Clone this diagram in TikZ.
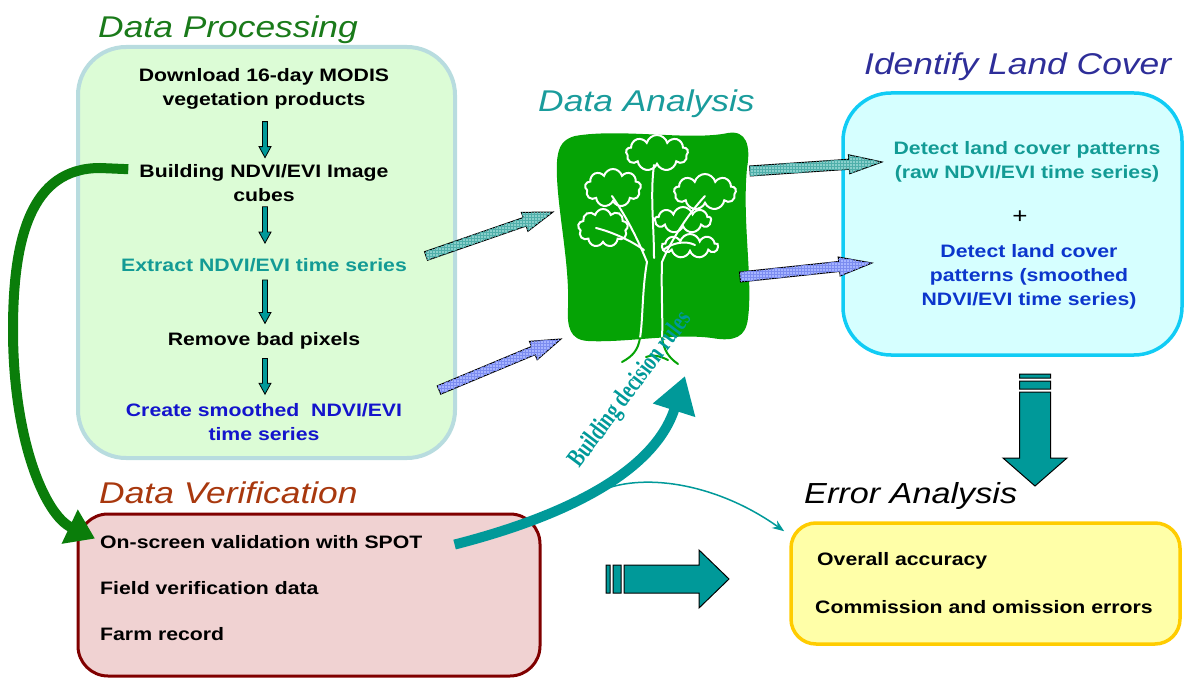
\documentclass[tikz,border=0pt]{standalone}
\usepackage{fontspec}
\setmainfont{Liberation Sans}[FakeStretch=1.18]
\newfontfamily\bdrfont{Liberation Serif}[FakeStretch=0.74]
\usetikzlibrary{calc,arrows.meta,shapes.symbols,patterns}

\definecolor{dptitle}{HTML}{1A7A1A}
\definecolor{dpfill}{HTML}{DCFCD6}
\definecolor{dpedge}{HTML}{B8DCDF}
\definecolor{tealtxt}{HTML}{139B95}
\definecolor{bluetxt}{HTML}{1414CC}
\definecolor{dvfill}{HTML}{F0D2D2}
\definecolor{dvedge}{HTML}{800000}
\definecolor{dvtitle}{HTML}{A8380E}
\definecolor{treegreen}{HTML}{05A305}
\definecolor{datitle}{HTML}{1A9C9C}
\definecolor{ilcfill}{HTML}{D6FFFF}
\definecolor{ilcedge}{HTML}{11CCF5}
\definecolor{ilctitle}{HTML}{2E2E99}
\definecolor{ilcblue}{HTML}{0C36CC}
\definecolor{arrteal}{HTML}{009999}
\definecolor{eafill}{HTML}{FFFFA8}
\definecolor{eaedge}{HTML}{FFCC00}
\definecolor{fatteal}{HTML}{8AD0CC}
\definecolor{fatblue}{HTML}{A6B4FF}
\definecolor{fattealgrid}{HTML}{4FAFAA}
\definecolor{fatbluegrid}{HTML}{7C8CF0}
\definecolor{curvegreen}{HTML}{0A7D0A}

% fat outlined arrow: style, from, to, half shaft, half head, head length
\newcommand\fatarrow[6]{%
  \draw[#1] let \p1=#2, \p2=#3, \n1={atan2(\y2-\y1,\x2-\x1)}, \n2={veclen(\x2-\x1,\y2-\y1)} in
    [shift={(\p1)}, rotate=\n1]
    (0,-#4) -- ({\n2-#6},-#4) -- ({\n2-#6},-#5) -- (\n2,0) -- ({\n2-#6},#5) -- ({\n2-#6},#4) -- (0,#4) -- cycle;}
% striped block arrow
\newcommand\stripearrow[6]{%
  \draw[#1] let \p1=#2, \p2=#3, \n1={atan2(\y2-\y1,\x2-\x1)}, \n2={veclen(\x2-\x1,\y2-\y1)} in
    [shift={(\p1)}, rotate=\n1]
    (0,-#4) -- (4,-#4) -- (4,#4) -- (0,#4) -- cycle
    (7,-#4) -- (15,-#4) -- (15,#4) -- (7,#4) -- cycle
    (18,-#4) -- ({\n2-#6},-#4) -- ({\n2-#6},-#5) -- (\n2,0) -- ({\n2-#6},#5) -- ({\n2-#6},#4) -- (18,#4) -- cycle;}

\begin{document}
\begin{tikzpicture}[x=1pt,y=-1pt,
  titletxt/.style={font=\itshape\fontsize{30}{30}\selectfont, inner sep=0pt, anchor=base west},
  bodytxt/.style={font=\bfseries\fontsize{18}{24}\selectfont, inner sep=0pt, align=center},
  listtxt/.style={font=\bfseries\fontsize{18}{24}\selectfont, inner sep=0pt, anchor=base west},
  dpbox/.style={draw=dpedge, fill=dpfill, line width=4pt, rounded corners=48pt, minimum width=377pt, minimum height=411pt, inner sep=0pt},
  dvbox/.style={draw=dvedge, fill=dvfill, line width=3pt, rounded corners=30pt, minimum width=462pt, minimum height=162pt, inner sep=0pt},
  ilcbox/.style={draw=ilcedge, fill=ilcfill, line width=3.5pt, rounded corners=48pt, minimum width=339pt, minimum height=262pt, inner sep=0pt},
  eabox/.style={draw=eaedge, fill=eafill, line width=3.5pt, rounded corners=25pt, minimum width=389pt, minimum height=121pt, inner sep=0pt},
  smallarr/.style={fill=arrteal, draw=black, line width=0.8pt},
  fattealarr/.style={fill=fatteal, draw=black, line width=1pt, postaction={pattern=grid, pattern color=fattealgrid}},
  fatbluearr/.style={fill=fatblue, draw=black, line width=1pt, postaction={pattern=grid, pattern color=fatbluegrid}},
  bigarr/.style={fill=arrteal, draw=black, line width=1pt},
  leaf/.style={cloud, cloud puffs=9, cloud ignores aspect, draw=white, line width=2pt, inner sep=0pt},
  branch/.style={draw=white, line width=2pt, line cap=round},
  root/.style={draw=treegreen, line width=2pt, line cap=round},
]
\useasboundingbox (0,0) rectangle (1184,679);

% ---------- boxes ----------
\node[dpbox] (dp) at (266.5,252.5) {};
\node[dvbox] (dv) at (309,595) {};
\node[ilcbox] (ilc) at (1012.5,224) {};
\node[eabox] (ea) at (985.5,583.5) {};

% ---------- titles ----------
\node[titletxt, text=dptitle] (tdp) at (98,38) {Data Processing};
\node[titletxt, text=datitle] (tda) at (538,112) {Data Analysis};
\node[titletxt, text=ilctitle] (tilc) at (864,75) {Identify Land Cover};
\node[titletxt, text=dvtitle] (tdv) at (99,503) {Data Verification};
\node[titletxt, text=black, font=\itshape\fontsize{29}{29}\selectfont] (tea) at (804,503) {Error Analysis};

% ---------- data processing steps ----------
\node[bodytxt] (d1) at (264,89) {Download 16-day MODIS\\vegetation products};
\node[bodytxt] (d2) at (264,183) {Building NDVI/EVI Image\\cubes};
\node[bodytxt, text=tealtxt] (d3) at (264,265) {Extract NDVI/EVI time series};
\node[bodytxt] (d4) at (264,341) {Remove bad pixels};
\node[bodytxt, text=bluetxt] (d5) at (264,422) {Create smoothed\ \ NDVI/EVI\\time series};

\fatarrow{smallarr}{($(d1.south)+(1,12)$)}{($(d1.south)+(1,48)$)}{2.5}{6}{11}
\fatarrow{smallarr}{($(d2.south)+(1,5)$)}{($(d3.north)+(1,-15)$)}{2.5}{6}{11}
\fatarrow{smallarr}{($(d3.south)+(1,8)$)}{($(d4.north)+(1,-9)$)}{2.5}{6}{11}
\fatarrow{smallarr}{($(d4.south)+(1,9)$)}{($(d5.north)+(1,-9)$)}{2.5}{6}{11}

% ---------- verification list ----------
\node[listtxt] (v1) at (100,548) {On-screen validation with SPOT};
\node[listtxt] (v2) at (100,594) {Field verification data};
\node[listtxt] (v3) at (100,640) {Farm record};

% ---------- identify land cover ----------
\node[bodytxt, text=tealtxt] (i1) at (1027,162) {Detect land cover patterns\\(raw NDVI/EVI time series)};
\node[font=\fontsize{22}{22}\selectfont, inner sep=0pt] (plus) at (1020,217) {+};
\node[bodytxt, text=ilcblue] (i2) at (1029,277) {Detect land cover\\patterns (smoothed\\NDVI/EVI time series)};

% ---------- error analysis ----------
\node[listtxt] (e1) at (817,565) {Overall accuracy};
\node[listtxt] (e2) at (815,613) {Commission and omission errors};

% ---------- tree ----------
\fill[treegreen] (575,136) .. controls (620,128) and (690,141) .. (728,133)
  .. controls (746,130) and (751,145) .. (747,168)
  .. controls (742,220) and (753,280) .. (748,318)
  .. controls (746,337) and (735,342) .. (712,338)
  .. controls (675,333) and (625,343) .. (588,341)
  .. controls (570,340) and (567,327) .. (568,308)
  .. controls (570,260) and (555,200) .. (557,162)
  .. controls (558,145) and (564,139) .. (575,136) -- cycle;
\node[leaf, minimum width=62pt, minimum height=36pt] (lf1) at (657,153) {};
\node[leaf, minimum width=56pt, minimum height=38pt] (lf2) at (613,188) {};
\node[leaf, minimum width=62pt, minimum height=36pt] (lf3) at (705,192) {};
\node[leaf, minimum width=50pt, minimum height=38pt] (lf4) at (603,228) {};
\node[leaf, minimum width=56pt, minimum height=26pt] (lf5) at (683,220) {};
\node[leaf, minimum width=56pt, minimum height=24pt] (lf6) at (690,246) {};
\draw[branch] (647,262) .. controls (636,235) and (625,215) .. (612,196);
\draw[branch] (644,250) .. controls (630,240) and (612,232) .. (596,228);
\draw[branch] (654,258) .. controls (654,225) and (650,195) .. (654,165);
\draw[branch] (662,262) .. controls (672,238) and (690,212) .. (705,196);
\draw[branch] (663,250) .. controls (672,243) and (685,240) .. (695,245);
\draw[branch] (647,262) .. controls (642,290) and (643,320) .. (640,338);
\draw[branch] (662,262) .. controls (661,290) and (663,320) .. (662,338);
\draw[root] (640,338) .. controls (638,350) and (633,356) .. (622,362);
\draw[root] (662,338) .. controls (664,350) and (668,357) .. (678,364);
\draw[root] (646,357) .. controls (652,354) and (660,356) .. (668,360);

\coordinate (treebase) at (685,376);
\coordinate (fa1s) at (426,256);
\coordinate (fa1e) at (553,212);
\coordinate (fa2s) at (439,390);
\coordinate (fa2e) at (561,339);
\coordinate (fa3s) at (750,171);
\coordinate (fa3e) at (882,162);
\coordinate (fa4s) at (740,277);
\coordinate (fa4e) at (872,263);
\coordinate (sa1s) at (1035,374);
\coordinate (sa1e) at (1035,486);
\coordinate (sa2s) at (606,579);
\coordinate (sa2e) at (729,579);
\coordinate (thinstart) at (598,492);

% ---------- fat arrows ----------
\fatarrow{fattealarr}{(fa1s)}{(fa1e)}{4.5}{10}{30}
\fatarrow{fatbluearr}{(fa2s)}{(fa2e)}{4.5}{10}{30}
\fatarrow{fattealarr}{(fa3s)}{(fa3e)}{5}{9.5}{33}
\fatarrow{fatbluearr}{(fa4s)}{(fa4e)}{5}{9.5}{33}

\stripearrow{bigarr}{(sa1s)}{(sa1e)}{15.5}{32}{28}
\stripearrow{bigarr}{(sa2s)}{(sa2e)}{14}{29}{30}

% ---------- curved arrows ----------
\draw[curvegreen, line width=10pt, -{Triangle[length=28pt,width=36pt]}]
  ($(d2.north west)+(-11,5)$) -- (100,168) .. controls (30,168) and (13,240) .. (13,330)
  .. controls (13,440) and (45,515) .. ($(v1.west)+(-5,-3)$);
\draw[arrteal, line width=10pt, -{Triangle[length=36pt,width=42pt]}]
  ($(v1.east)+(32,3)$) .. controls (570,515) and (655,470) .. (treebase);
\draw[arrteal, line width=1.5pt, -{Stealth[length=12pt,width=9pt]}]
  (thinstart) .. controls (640,472) and (715,482) .. ($(ea.north west)+(-5,10)$);
\node[font=\bdrfont\bfseries\fontsize{26}{26}\selectfont, text=arrteal, rotate=53, inner sep=0pt] (bdr) at (631,390) {Building decision rules};
\end{tikzpicture}
\end{document}
